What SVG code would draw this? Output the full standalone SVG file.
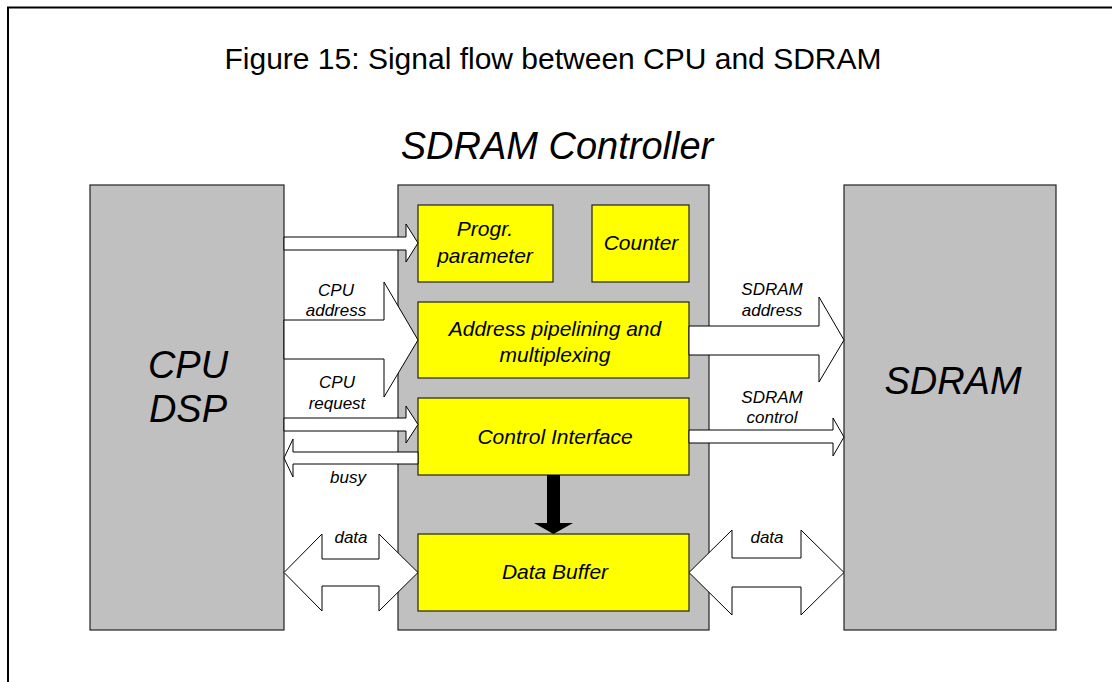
<svg xmlns="http://www.w3.org/2000/svg" width="1112" height="682" viewBox="0 0 1112 682">
  <style>
    text { font-family: "Liberation Sans", Arial, sans-serif; fill: #000; }
    .it { font-style: italic; }
    .block { fill: #C0C0C0; stroke: #222; stroke-width: 1.2; }
    .unit { fill: #FFFF00; stroke: #222; stroke-width: 1.2; }
    .bus { fill: #FFFFFF; stroke: #000; stroke-width: 1; stroke-linejoin: miter; }
    .big { font-size: 38px; text-anchor: middle; }
    .mid { font-size: 21px; text-anchor: middle; }
    .lbl { font-size: 17px; text-anchor: middle; }
  </style>

  <!-- page frame -->
  <rect x="8" y="7.5" width="1130" height="700" fill="#FFFFFF" stroke="#000" stroke-width="2"/>

  <text x="553" y="69" font-size="30" text-anchor="middle">Figure 15: Signal flow between CPU and SDRAM</text>
  <text class="it" x="557" y="159" font-size="38" text-anchor="middle">SDRAM Controller</text>

  <!-- main blocks -->
  <g id="cpu">
    <rect class="block" x="90" y="185" width="194" height="445"/>
    <text class="it big" x="188" y="378">CPU</text>
    <text class="it big" x="188" y="422">DSP</text>
  </g>
  <g id="controller">
    <rect class="block" x="398" y="185" width="311" height="445"/>
  </g>
  <g id="sdram">
    <rect class="block" x="844" y="185" width="212" height="445"/>
    <text class="it big" x="953" y="394">SDRAM</text>
  </g>

  <!-- controller units -->
  <g id="progr">
    <rect class="unit" x="418" y="205" width="135" height="77"/>
    <text class="it mid" x="485" y="236">Progr.</text>
    <text class="it mid" x="485" y="263">parameter</text>
  </g>
  <g id="counter">
    <rect class="unit" x="592" y="205" width="97" height="77"/>
    <text class="it mid" x="641" y="250">Counter</text>
  </g>
  <g id="address">
    <rect class="unit" x="418" y="302" width="271" height="76"/>
    <text class="it mid" x="555" y="336">Address pipelining and</text>
    <text class="it mid" x="555" y="362">multiplexing</text>
  </g>
  <g id="control">
    <rect class="unit" x="418" y="398" width="271" height="77"/>
    <text class="it mid" x="555" y="444">Control Interface</text>
  </g>
  <g id="buffer">
    <rect class="unit" x="418" y="534" width="271" height="77"/>
    <text class="it mid" x="555" y="579">Data Buffer</text>
  </g>

  <!-- buses -->
  <g id="connectors">
    <polygon class="bus" points="284,237 406,237 406,224 418,243 406,262 406,250 284,250"/>
    <polygon class="bus" points="284,320 384,320 384,282 418,340 384,397 384,359 284,359"/>
    <polygon class="bus" points="284,418 406,418 406,406 418,424.5 406,443 406,431 284,431"/>
    <polygon class="bus" points="418,452 293,452 293,439 284,458 293,477 293,464 418,464"/>
    <polygon class="bus" points="284,572.5 322,534 322,559 379,559 379,534 418,572.5 379,611 379,586 322,586 322,611"/>
    <polygon class="bus" points="689,326 819,326 819,297 844,340 819,382 819,355 689,355"/>
    <polygon class="bus" points="689,430 833,430 833,418 844,437 833,456 833,443 689,443"/>
    <polygon class="bus" points="689,572.5 732,530 732,558 801,558 801,530 844,572.5 801,615 801,587 732,587 732,615"/>
    <polygon fill="#000" points="547,475 560,475 560,523 573,523 553.5,534 534,523 547,523"/>
  </g>

  <!-- bus labels -->
  <text class="it lbl" x="336" y="296">CPU</text>
  <text class="it lbl" x="336" y="316">address</text>
  <text class="it lbl" x="337" y="388">CPU</text>
  <text class="it lbl" x="337" y="409">request</text>
  <text class="it lbl" x="348" y="483">busy</text>
  <text class="it lbl" x="351" y="543">data</text>
  <text class="it lbl" x="772" y="295">SDRAM</text>
  <text class="it lbl" x="772" y="316">address</text>
  <text class="it lbl" x="772" y="403">SDRAM</text>
  <text class="it lbl" x="772" y="423">control</text>
  <text class="it lbl" x="767" y="543">data</text>
</svg>
